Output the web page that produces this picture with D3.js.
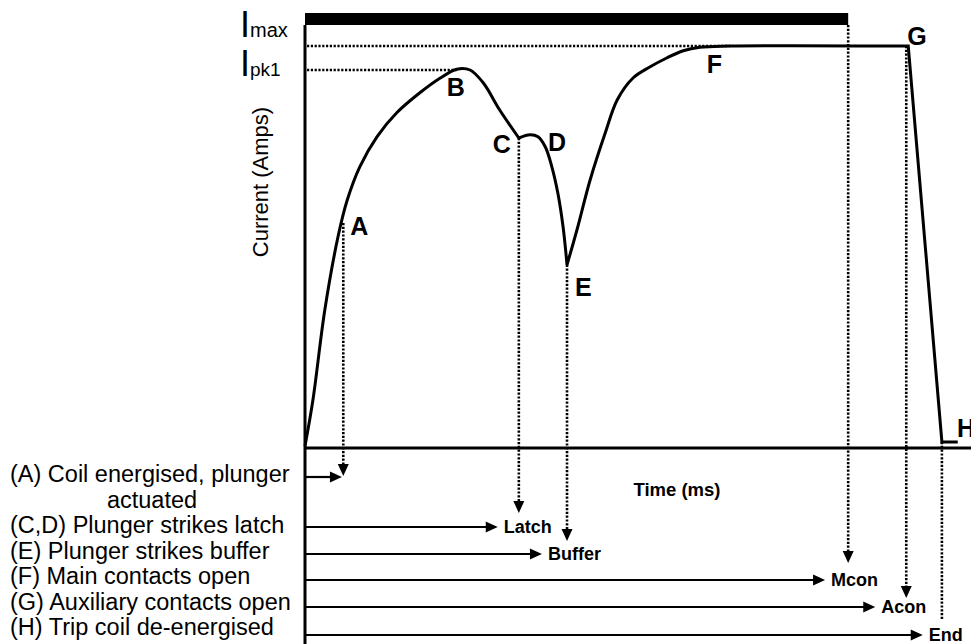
<!DOCTYPE html>
<html>
<head>
<meta charset="utf-8">
<script src="https://cdn.jsdelivr.net/npm/d3@7"></script>
<style>
    body { margin: 0; background: #fff; }
    text { font-family: "Liberation Sans", Arial, sans-serif; fill: #000; }
</style>
</head>
<body>
<svg id="chart" width="971" height="644"></svg>
<script>

// trip coil current trace: time in arbitrary units (0-100), current in % of Imax
var traceTime = [0, 1.2, 3.0, 5.0, 6.4, 8.3, 10.9, 13.9, 17.4, 20.5, 23.0, 25.0, 27.0, 29.5, 32.4,
    34.1, 35.3, 36.4, 37.4, 38.3, 39.1, 39.7,
    41.2, 43.2, 45.5, 47.3, 49.7, 52.3, 54.8, 57.3, 59.8, 64.4, 91.4,
    96.5, 98.9];
var traceCurrent = [0, 11.5, 34, 52.3, 61.5, 69.8, 77.3, 83.3, 88.3, 92, 94.2, 94, 90.8, 84, 77,
    77.8, 77.3, 74.8, 69.8, 63.3, 54.8, 45.3,
    54, 66.5, 78.3, 86.5, 92, 94.8, 97, 98.8, 99.7, 100, 100,
    1, 1];
// indexes where the trace has a sharp corner (C, E, G)
var traceBreaks = [14, 21, 32];

// lettered points on the trace
var pointNames = ["A", "B", "C", "D", "E", "F", "G", "H"];
var pointTime = [5.8, 23.0, 32.4, 35.3, 39.7, 62.1, 91.4, 96.5];
var pointCurrent = [55.75, 94, 77, 77.3, 45.3, 100, 100, 1];

// reference levels
var levelNames = ["max", "pk1"];
var levelCurrent = [100, 94];
var levelEndTime = [64.4, 23.0];

// trip command bar
var barTime = [0, 82.3];
var barCurrent = 106.75;

// events drawn below the time axis
var eventNames = ["", "Latch", "Buffer", "Mcon", "Acon", "End"];
var eventDropTime = [5.8, 32.4, 39.7, 82.3, 91.1, 96.5];
var eventDropFrom = [55.75, 77, 45.3, 105.25, 100, 1];
var eventArrowTime = [5.6, 29.2, 35.9, 78.8, 86.4, 93.6];

var legendLines = ["(A) Coil energised, plunger", "actuated", "(C,D) Plunger strikes latch",
    "(E) Plunger strikes buffer", "(F) Main contacts open", "(G) Auxiliary contacts open",
    "(H) Trip coil de-energised"];

// layout
var rowY = [477, 527, 554, 580, 607, 635];
var dropEndY = [476, 513, 541, 563, 598, 620];
var dropHead = [true, true, true, true, true, false];
var pointDx = [7, -10, -26, 10, 8, -8, -1, 15];
var pointDy = [12, 26, 15, 14, 31, 27, -1, -5];

var svg = d3.select("#chart");

var x = d3.scaleLinear().domain([0, 100]).range([305, 965]);
var y = d3.scaleLinear().domain([0, 100]).range([446, 46]);

var axisY = y(0) + 2;

function dotted(x1, y1, x2, y2) {
    svg.append("line")
        .attr("x1", x1).attr("y1", y1).attr("x2", x2).attr("y2", y2)
        .attr("stroke", "#000")
        .attr("stroke-width", 2.6)
        .attr("stroke-dasharray", "2.2,1.6");
}

function headRight(xt, yt) {
    svg.append("path")
        .attr("d", "M" + xt + "," + yt + "L" + (xt - 12) + "," + (yt - 5.5) + "L" + (xt - 12) + "," + (yt + 5.5) + "Z")
        .attr("fill", "#000");
}

function headDown(xt, yt) {
    svg.append("path")
        .attr("d", "M" + xt + "," + yt + "L" + (xt - 5.5) + "," + (yt - 12) + "L" + (xt + 5.5) + "," + (yt - 12) + "Z")
        .attr("fill", "#000");
}

// trip command bar
svg.append("rect")
    .attr("x", x(barTime[0]))
    .attr("y", y(barCurrent) - 6)
    .attr("width", x(barTime[1]) - x(barTime[0]))
    .attr("height", 12)
    .attr("fill", "#000");

// axes
svg.append("line")
    .attr("x1", x(0)).attr("y1", y(barCurrent) + 6)
    .attr("x2", x(0)).attr("y2", 644)
    .attr("stroke", "#000").attr("stroke-width", 3);

svg.append("line")
    .attr("x1", x(0)).attr("y1", axisY)
    .attr("x2", 971).attr("y2", axisY)
    .attr("stroke", "#000").attr("stroke-width", 3.2);

// Imax / Ipk1 levels
levelNames.forEach(function (name, i) {
    dotted(x(0) + 2, y(levelCurrent[i]), x(levelEndTime[i]), y(levelCurrent[i]));
});

var lab = svg.append("text")
    .attr("x", 240).attr("y", y(levelCurrent[0]) - 9);
lab.append("tspan").style("font-size", "36px").text("I");
lab.append("tspan").style("font-size", "20px").text(levelNames[0]);

var lab2 = svg.append("text")
    .attr("x", 240).attr("y", y(levelCurrent[1]) + 6);
lab2.append("tspan").style("font-size", "36px").text("I");
lab2.append("tspan").style("font-size", "19px").text(levelNames[1]);

svg.append("text")
    .attr("transform", "translate(268,182) rotate(-90)")
    .attr("text-anchor", "middle")
    .style("font-size", "22px")
    .text("Current (Amps)");

// vertical dotted drops with arrows
eventNames.forEach(function (name, i) {
    var xx = x(eventDropTime[i]);
    var end = dropHead[i] ? dropEndY[i] - 11 : dropEndY[i];
    dotted(xx, y(eventDropFrom[i]), xx, end);
    if (dropHead[i]) headDown(xx, dropEndY[i]);
});

// the current trace
var pts = traceTime.map(function (t, i) { return [t, traceCurrent[i]]; });
var smooth = d3.line()
    .x(function (d) { return x(d[0]); })
    .y(function (d) { return y(d[1]); })
    .curve(d3.curveCatmullRom.alpha(0.5));
var straight = d3.line()
    .x(function (d) { return x(d[0]); })
    .y(function (d) { return y(d[1]); });

var cuts = [0].concat(traceBreaks);
var pathD = "";
cuts.forEach(function (c, k) {
    var next = k + 1 < cuts.length ? cuts[k + 1] : pts.length - 1;
    var seg = pts.slice(c, next + 1);
    var d = (k == cuts.length - 1) ? straight(seg) : smooth(seg);
    pathD += (k == 0) ? d : "L" + d.slice(1);
});
svg.append("path")
    .attr("d", pathD)
    .attr("fill", "none")
    .attr("stroke", "#000")
    .attr("stroke-width", 3)
    .attr("stroke-linejoin", "miter");

// point letters
svg.selectAll("text.pt").data(pointNames).enter().append("text")
    .attr("class", "pt")
    .attr("x", function (d, i) { return x(pointTime[i]) + pointDx[i]; })
    .attr("y", function (d, i) { return y(pointCurrent[i]) + pointDy[i]; })
    .style("font-size", "25px")
    .style("font-weight", "bold")
    .text(function (d) { return d; });

// time label
svg.append("text")
    .attr("x", 677).attr("y", 496)
    .attr("text-anchor", "middle")
    .style("font-size", "18.5px")
    .style("font-weight", "bold")
    .text("Time (ms)");

// horizontal event arrows
eventNames.forEach(function (name, i) {
    var tip = x(eventArrowTime[i]);
    svg.append("line")
        .attr("x1", x(0)).attr("y1", rowY[i])
        .attr("x2", tip - 10).attr("y2", rowY[i])
        .attr("stroke", "#000").attr("stroke-width", 2.2);
    headRight(tip, rowY[i]);
    svg.append("text")
        .attr("x", tip + 6).attr("y", rowY[i] + 6)
        .style("font-size", "18px")
        .style("font-weight", "bold")
        .text(name);
});

// legend text on the left
svg.selectAll("text.leg").data(legendLines).enter().append("text")
    .attr("class", "leg")
    .attr("x", function (d, i) { return i == 1 ? 152 : 10; })
    .attr("y", function (d, i) { return 482 + i * 25.5; })
    .attr("text-anchor", function (d, i) { return i == 1 ? "middle" : "start"; })
    .style("font-size", "23.5px")
    .text(function (d) { return d; });

</script>
</body>
</html>
